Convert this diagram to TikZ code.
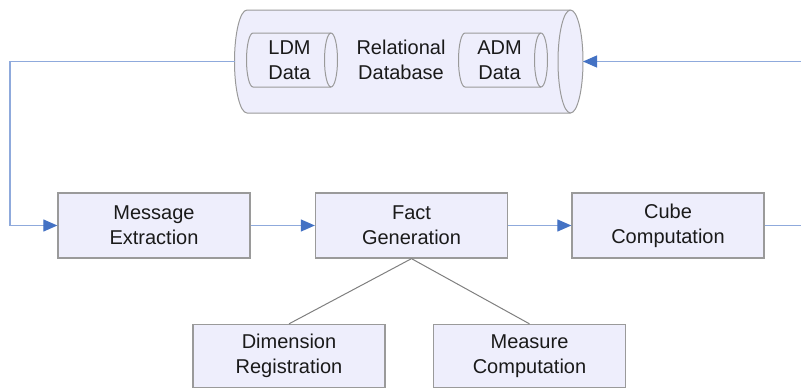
\documentclass[tikz,border=0pt]{standalone}
\usepackage{fontspec}
\setmainfont{Liberation Sans}
\usetikzlibrary{arrows.meta}
\definecolor{boxfill}{HTML}{EEEEFC}
\definecolor{boxline}{HTML}{9A9A9A}
\definecolor{flow}{HTML}{8FAADC}
\definecolor{tipblue}{HTML}{4472C4}
\definecolor{ink}{HTML}{1A1A1A}
\definecolor{linkgray}{HTML}{7F7F7F}
\begin{document}
\begin{tikzpicture}[x=1pt,y=-1pt,
  txt/.style={align=center, font=\fontsize{20}{25}\selectfont, text=ink, inner sep=0pt},
  stage/.style={txt, draw=boxline, line width=1.3pt, fill=boxfill,
    minimum width=192pt, minimum height=65pt},
  substage/.style={stage, minimum height=63pt},
  drum/.style={draw=boxline, line width=1pt, fill=boxfill},
  flowline/.style={draw=flow, line width=1.2pt},
  flowarrow/.style={flowline, -{Triangle[length=14pt,width=12pt,color=tipblue]}},
  linkline/.style={draw=linkgray, line width=1pt}]
\useasboundingbox (0,0) rectangle (801,388);

% relational database drum
\path[drum] (247,10) -- (570.5,10)
  arc[start angle=-90,end angle=90,x radius=12.5,y radius=51.5]
  -- (247,113)
  arc[start angle=90,end angle=270,x radius=12.5,y radius=51.5] -- cycle;
\draw[drum, fill=none] (570.5,10)
  arc[start angle=270,end angle=90,x radius=12.5,y radius=51.5];

% LDM data drum
\path[drum] (253,33) -- (331,33)
  arc[start angle=-90,end angle=90,x radius=6.5,y radius=27]
  -- (253,87)
  arc[start angle=90,end angle=270,x radius=6.5,y radius=27] -- cycle;
\draw[drum, fill=none] (331,33)
  arc[start angle=270,end angle=90,x radius=6.5,y radius=27];

% ADM data drum
\path[drum] (465,33) -- (541,33)
  arc[start angle=-90,end angle=90,x radius=6.5,y radius=27]
  -- (465,87)
  arc[start angle=90,end angle=270,x radius=6.5,y radius=27] -- cycle;
\draw[drum, fill=none] (541,33)
  arc[start angle=270,end angle=90,x radius=6.5,y radius=27];

\node[txt] (ldm) at (289.5,60) {LDM\\Data};
\node[txt] (rdb) at (401,60) {Relational\\Database};
\node[txt] (adm) at (499.5,60) {ADM\\Data};

\coordinate (dbw) at (235,61.5);
\coordinate (dbe) at (583,61.5);

% processing stages
\node[stage] (msg)  at (154,225.5)   {Message\\Extraction};
\node[stage] (fact) at (411.5,225.5) {Fact\\Generation};
\node[stage] (cube) at (668,225.5)   {Cube\\Computation};
\node[substage] (dim)  at (289,356)   {Dimension\\Registration};
\node[substage] (meas) at (529.5,356) {Measure\\Computation};

% flow connectors
\coordinate (ltop) at (10,61.5);
\coordinate (rout) at (801,225.5);
\coordinate (rin)  at (801,61.5);
\draw[flowarrow] (dbw) -- (ltop) |- (msg.west);
\draw[flowarrow] (msg) -- (fact);
\draw[flowarrow] (fact) -- (cube);
\draw[flowline] (cube.east) -- (rout);
\draw[flowarrow] (rin) -- (dbe);

% sub-steps of fact generation
\draw[linkline] (fact.south) -- (dim.north);
\draw[linkline] (fact.south) -- (meas.north);
\end{tikzpicture}
\end{document}
